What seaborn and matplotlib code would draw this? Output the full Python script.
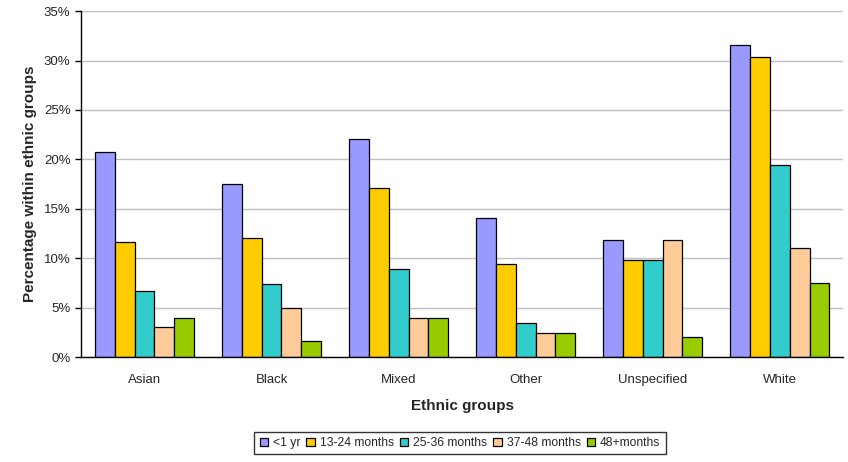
import pandas as pd
import seaborn as sns
import matplotlib.pyplot as plt
from matplotlib.ticker import PercentFormatter

groups = ['Asian', 'Black', 'Mixed', 'Other', 'Unspecified', 'White']
periods = ['<1 yr', '13-24 months', '25-36 months', '37-48 months', '48+months']
colors = ['#9999FF', '#FFCC00', '#33CCCC', '#FFCC99', '#99CC00']

lt1 = [20.7, 17.5, 22.1, 14.1, 11.8, 31.6]
m13_24 = [11.6, 12.0, 17.1, 9.4, 9.8, 30.4]
m25_36 = [6.7, 7.4, 8.9, 3.5, 9.8, 19.4]
m37_48 = [3.0, 5.0, 4.0, 2.4, 11.8, 11.0]
m48 = [4.0, 1.6, 4.0, 2.4, 2.0, 7.5]

rows = []
for p, vals in zip(periods, [lt1, m13_24, m25_36, m37_48, m48]):
    for g, v in zip(groups, vals):
        rows.append({'group': g, 'period': p, 'pct': v})
df = pd.DataFrame(rows)

sns.set_style('white')
plt.rcParams['font.family'] = ['Liberation Sans', 'DejaVu Sans']

fig = plt.figure(figsize=(8.48, 4.62), dpi=100)
ax = fig.add_axes([0.0955, 0.227, 0.899, 0.749])

sns.barplot(data=df, x='group', y='pct', hue='period', hue_order=periods,
            palette=colors, width=0.78, edgecolor='black', linewidth=0.9,
            saturation=1, ax=ax, legend=True)

ax.set_ylim(0, 35)
ax.set_xlim(-0.5, 5.5)
ax.set_yticks(range(0, 36, 5))
ax.yaxis.set_major_formatter(PercentFormatter(decimals=0))
ax.yaxis.grid(True, color='#C0C0C0', linewidth=1)
ax.set_axisbelow(True)

ax.set_xticks(range(len(groups)))
ax.set_xticklabels(groups)
ax.set_xticks([i - 0.5 for i in range(len(groups) + 1)], minor=True)
ax.tick_params(axis='x', which='major', length=0, pad=12.5, labelsize=9.5)
ax.tick_params(axis='x', which='minor', length=4, direction='out', width=1, color='black')
ax.tick_params(axis='y', length=4, direction='out', width=1, color='black', labelsize=9.5, left=True)

for s in ['top', 'right']:
    ax.spines[s].set_visible(False)
for s in ['left', 'bottom']:
    ax.spines[s].set_color('black')
    ax.spines[s].set_linewidth(1)

ax.set_xlabel('Ethnic groups', fontsize=11, fontweight='bold', labelpad=9)
ax.set_ylabel('Percentage within ethnic groups', fontsize=11, fontweight='bold', labelpad=5)

handles, labels = ax.get_legend_handles_labels()
ax.get_legend().remove()
leg = fig.legend(handles, labels, loc='center', bbox_to_anchor=(0.5425, 0.041), ncol=5,
                 fontsize=8.7, frameon=True, fancybox=False, edgecolor='black',
                 handlelength=0.7, handleheight=0.7, handletextpad=0.4,
                 columnspacing=0.5, borderpad=0.45)
leg.get_frame().set_linewidth(1)

fig.savefig('out.png', dpi=100)
